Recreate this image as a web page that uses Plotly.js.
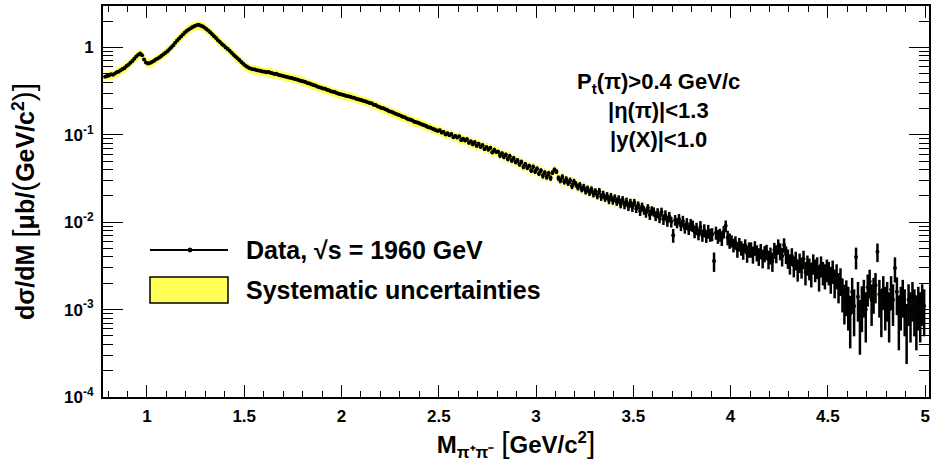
<!DOCTYPE html>
<html>
<head>
<meta charset="utf-8">
<script src="https://cdn.plot.ly/plotly-3.0.1.min.js"></script>
<style>html,body{margin:0;padding:0;background:#fff;}#chart{width:933px;height:466px;}</style>
</head>
<body>
<div id="chart"></div>
<script>
// Histogram binning (10 MeV bins from 0.78 to 5.00 GeV/c^2)
const BIN_LO = 0.78;
const BIN_W = 0.01;

// dsigma/dM [ub/(GeV/c^2)] per bin
const DSIGMA = [
 0.462,0.471,
 0.478,0.492,0.486,0.503,0.521,0.529,0.548,0.566,0.581,0.612,
 0.634,0.668,0.701,0.742,0.786,0.823,0.851,0.812,0.728,0.672,
 0.655,0.662,0.679,0.701,0.728,0.746,0.772,0.801,0.833,0.868,
 0.903,0.952,1.003,1.062,1.131,1.198,1.262,1.331,1.402,1.478,
 1.553,1.607,1.662,1.718,1.756,1.792,1.812,1.786,1.742,1.689,
 1.628,1.561,1.487,1.418,1.343,1.281,1.212,1.152,1.092,1.049,
 0.998,0.962,0.915,0.871,0.826,0.789,0.752,0.716,0.681,0.652,
 0.622,0.601,0.583,0.571,0.562,0.558,0.549,0.544,0.536,0.532,
 0.528,0.519,0.524,0.512,0.506,0.498,0.501,0.487,0.481,0.474,
 0.468,0.463,0.457,0.449,0.446,0.438,0.433,0.427,0.419,0.414,
 0.407,0.401,0.392,0.387,0.379,0.371,0.366,0.358,0.351,0.345,
 0.339,0.336,0.327,0.324,0.316,0.311,0.309,0.301,0.296,0.292,
 0.288,0.284,0.279,0.276,0.272,0.268,0.266,0.259,0.256,0.252,
 0.249,0.243,0.241,0.236,0.232,0.229,0.221,0.219,0.212,0.208,
 0.203,0.201,0.196,0.192,0.186,0.184,0.180,0.175,0.172,0.169,
 0.165,0.161,0.159,0.154,0.151,0.149,0.146,0.141,0.139,0.137,
 0.134,0.131,0.129,0.126,0.122,0.121,0.118,0.116,0.113,0.111,
 0.113,0.106,0.108,0.101,0.104,0.099,0.102,0.094,0.097,0.093,
 0.096,0.087,0.090,0.086,0.089,0.081,0.084,0.078,0.082,0.075,
 0.079,0.073,0.076,0.069,0.072,0.068,0.071,0.063,0.067,0.064,
 0.064,0.058,0.061,0.056,0.059,0.053,0.057,0.051,0.054,0.049,
 0.051,0.046,0.049,0.043,0.046,0.042,0.044,0.039,0.043,0.038,
 0.041,0.036,0.039,0.034,0.037,0.033,0.036,0.032,0.037,0.040,
 0.038,0.032,0.030,0.033,0.029,0.031,0.028,0.030,0.026,0.029,
 0.0272,0.0251,0.0266,0.0239,0.0252,0.0228,0.0241,0.0219,0.0236,0.0211,
 0.0224,0.0201,0.0226,0.0195,0.0208,0.0188,0.0201,0.0179,0.0196,0.0176,
 0.0189,0.0171,0.0183,0.0162,0.0181,0.0158,0.0172,0.0151,0.0167,0.0149,
 0.0168,0.0143,0.0157,0.0134,0.0151,0.0137,0.0128,0.0145,0.0122,0.0136,
 0.0132,0.0117,0.0128,0.0112,0.0131,0.0108,0.0121,0.0103,0.0116,0.0101,
 0.0071,0.0106,0.0098,0.0109,0.0092,0.0103,0.0086,0.0097,0.0083,0.0094,
 0.0091,0.0078,0.0085,0.0073,0.0088,0.0071,0.0081,0.0069,0.0079,0.0072,
 0.0073,0.0036,0.0076,0.0069,0.0072,0.0066,0.0078,0.0091,0.0067,0.0062,
 0.0061,0.0055,0.0059,0.0049,0.0056,0.0051,0.0047,0.0054,0.0044,0.0049,
 0.0049,0.0043,0.0051,0.0045,0.0041,0.0047,0.0039,0.0044,0.0046,0.0038,
 0.0042,0.0036,0.0048,0.0044,0.0053,0.0047,0.0041,0.0055,0.0043,0.0039,
 0.0034,0.0041,0.0032,0.0037,0.0029,0.0035,0.0031,0.0038,0.0027,0.0033,
 0.0030,0.0026,0.0034,0.0029,0.0031,0.0024,0.0032,0.0027,0.0025,0.0029,
 0.0027,0.0023,0.0028,0.0021,0.0025,0.0019,0.0022,0.0016,0.0013,0.0015,
 0.0012,0.0009,0.0016,0.0011,0.0040,0.0014,0.0008,0.0012,0.0015,0.0010,
 0.0018,0.0021,0.0013,0.0016,0.0019,0.0046,0.0015,0.0011,0.0017,0.0012,
 0.0014,0.0010,0.0017,0.0013,0.0030,0.0016,0.0009,0.0012,0.0015,0.0011,
 0.0007,0.0013,0.0010,0.0014,0.0011,0.0009,0.0012,0.0010,0.0013,0.0011
];

// statistical uncertainty per bin, in percent of the bin value
const STAT_PCT = [
 2,2,
 2,2,2,2,2,2,2,2,2,2,
 2,2,2,2,2,2,2,2,2,2,
 2,2,2,2,2,2,2,2,2,2,
 2,2,2,2,2,2,2,2,2,2,
 2,2,2,2,2,2,2,2,2,2,
 2,2,2,2,2,2,2,2,2,2,
 2,2,2,2,2,2,2,2,2,2,
 2,2,2,2,2,2,2,2,2,2,
 3,3,3,3,3,3,3,3,3,3,
 3,3,3,3,3,3,3,3,3,3,
 3,3,3,3,3,3,3,3,3,3,
 3,3,3,3,3,3,3,3,3,3,
 3,3,3,3,3,3,3,3,3,3,
 3,3,3,3,3,3,3,3,3,3,
 3,3,3,3,3,3,3,3,3,3,
 3,3,3,3,3,4,4,4,4,4,
 4,4,4,4,4,4,4,4,4,4,
 4,4,4,4,4,4,4,4,4,4,
 4,4,4,4,5,4,5,5,5,5,
 5,5,5,5,5,5,5,5,6,5,
 5,6,6,6,6,6,6,6,6,6,
 6,6,6,6,6,6,6,6,6,6,
 6,6,6,7,6,7,7,7,6,5,
 6,7,7,7,7,8,7,8,8,8,
 8,8,8,8,9,9,9,9,9,9,
 9,9,9,10,10,9,10,10,10,10,
 10,10,11,11,10,11,11,11,11,12,
 10,11,10,12,11,11,12,11,13,12,
 12,12,13,13,12,14,13,14,13,14,
 18,14,13,14,14,15,14,15,14,16,
 15,16,16,15,17,16,17,16,18,17,
 17,25,17,18,17,19,16,15,19,20,
 16,18,17,20,18,19,21,18,22,20,
 20,22,19,21,23,20,24,21,20,24,
 22,25,21,23,20,22,24,19,23,25,
 26,23,27,24,28,25,27,24,30,26,
 28,31,26,29,28,33,27,30,32,29,
 30,34,30,36,32,38,35,42,48,44,
 52,60,44,55,28,48,62,54,46,58,
 40,36,50,44,38,24,46,56,42,52,
 48,58,42,50,32,46,62,52,46,55,
 66,50,58,48,55,62,52,58,50,55
];

// relative systematic uncertainty (yellow band)
const SYS_REL = 0.12;

// axis ticks
const X_TICKS = [1, 1.5, 2, 2.5, 3, 3.5, 4, 4.5, 5];
const X_TICKTEXT = ['1', '1.5', '2', '2.5', '3', '3.5', '4', '4.5', '5'];
const Y_TICKS = [1e-4, 1e-3, 1e-2, 1e-1, 1];
const Y_TICKTEXT = ['10<sup>-4</sup>', '10<sup>-3</sup>', '10<sup>-2</sup>', '10<sup>-1</sup>', '1'];

// labels
const CUTS = ['P<sub>t</sub>(π)&gt;0.4 GeV/c', '|η(π)|&lt;1.3', '|y(X)|&lt;1.0'];
const LEGEND_DATA = 'Data, √s = 1960 GeV';
const LEGEND_SYS = 'Systematic uncertainties';

// ---- build ----
const mass = DSIGMA.map((_, i) => +(BIN_LO + BIN_W * (i + 0.5)).toFixed(4));
const statErr = DSIGMA.map((v, i) => v * STAT_PCT[i] / 100);
const sysLo = DSIGMA.map(v => v * (1 - SYS_REL));
const sysHi = DSIGMA.map(v => v * (1 + SYS_REL));

const YELLOW = '#ffff55';
const traces = [
  {x: mass, y: sysLo, type: 'scatter', mode: 'lines', line: {width: 0, shape: 'hvh'}, hoverinfo: 'skip', showlegend: false},
  {x: mass, y: sysHi, type: 'scatter', mode: 'lines', line: {width: 0, shape: 'hvh'}, fill: 'tonexty', fillcolor: YELLOW, hoverinfo: 'skip', showlegend: false},
  {x: mass, y: DSIGMA, type: 'scatter', mode: 'markers',
   marker: {color: 'black', size: 4},
   error_y: {type: 'data', array: statErr, color: 'black', thickness: 2.5, width: 0},
   error_x: {type: 'constant', value: BIN_W / 2, color: 'black', thickness: 2.5, width: 0},
   showlegend: false}
];

// plot-area pixel geometry
const PL = 103, PR = 929, PT = 6, PB = 397;
const px = v => (v - PL) / (PR - PL);
const py = v => (PB - v) / (PB - PT);

const yMinor = [];
for (let e = -4; e <= 0; e++) for (let m = 2; m <= 9; m++) { const v = m * Math.pow(10, e); if (v < 2.98) yMinor.push(v); }

const FONT = 'Liberation Sans, Arial, Helvetica, sans-serif';
const BR = (c) => '<span style="font-size:30px;font-weight:normal">' + c + '</span>';

const annotations = [];
CUTS.forEach((t, i) => annotations.push({
  xref: 'paper', yref: 'paper', x: px(658), y: py(83 + i * 28), xanchor: 'center', yanchor: 'middle',
  text: t, showarrow: false, font: {family: FONT, size: 22, weight: 'bold', color: 'black'}
}));
annotations.push({xref: 'paper', yref: 'paper', x: px(244), y: py(250), xanchor: 'left', yanchor: 'middle',
  text: LEGEND_DATA, showarrow: false, font: {family: FONT, size: 25, weight: 'bold', color: 'black'}});
annotations.push({xref: 'paper', yref: 'paper', x: px(244), y: py(290), xanchor: 'left', yanchor: 'middle',
  text: LEGEND_SYS, showarrow: false, font: {family: FONT, size: 25, weight: 'bold', color: 'black'}});

const shapes = [
  {type: 'line', xref: 'paper', yref: 'paper', x0: px(150), x1: px(228), y0: py(250), y1: py(250), line: {color: 'black', width: 2}},
  {type: 'circle', xref: 'paper', yref: 'paper', x0: px(188), x1: px(192), y0: py(252), y1: py(248), fillcolor: 'black', line: {color: 'black', width: 1}},
  {type: 'rect', xref: 'paper', yref: 'paper', x0: px(150), x1: px(228), y0: py(303), y1: py(277), fillcolor: YELLOW, line: {color: 'black', width: 1.5}}
];

const layout = {
  width: 933, height: 466,
  margin: {l: PL, r: 933 - PR, t: PT, b: 466 - PB},
  paper_bgcolor: 'white', plot_bgcolor: 'white',
  font: {family: FONT, color: 'black'},
  showlegend: false,
  xaxis: {
    range: [0.774, 5.02], tickmode: 'array', tickvals: X_TICKS, ticktext: X_TICKTEXT,
    ticks: 'inside', ticklen: 12, tickwidth: 1, tickcolor: 'black', mirror: 'allticks',
    showline: true, linewidth: 2, linecolor: 'black', showgrid: false, zeroline: false,
    tickfont: {family: FONT, size: 17, weight: 'bold'}, ticklabelstandoff: 3,
    minor: {dtick: 0.1, tick0: 0, ticks: 'inside', ticklen: 6, tickcolor: 'black', showgrid: false},
    title: {text: 'M<sub>π⁺π⁻</sub> ' + BR('[') + 'GeV/c<sup>2</sup>' + BR(']'), font: {family: FONT, size: 24, weight: 'bold'}, standoff: 10}
  },
  yaxis: {
    type: 'log', range: [-4, 0.474], tickmode: 'array', tickvals: Y_TICKS, ticktext: Y_TICKTEXT,
    ticks: 'inside', ticklen: 20, tickwidth: 1, tickcolor: 'black', mirror: 'allticks',
    showline: true, linewidth: 2, linecolor: 'black', showgrid: false, zeroline: false,
    tickfont: {family: FONT, size: 17, weight: 'bold'}, ticklabelstandoff: 4,
    minor: {tickmode: 'array', tickvals: yMinor, ticks: 'inside', ticklen: 10, tickcolor: 'black', showgrid: false},
    title: {text: 'dσ/dM ' + BR('[') + 'μb/' + BR('(') + 'GeV/c<sup>2</sup>' + BR(')') + BR(']'), font: {family: FONT, size: 25, weight: 'bold'}, standoff: 22}
  },
  annotations: annotations,
  shapes: shapes
};

Plotly.newPlot('chart', traces, layout, {displayModeBar: false, staticPlot: true});
</script>
</body>
</html>
